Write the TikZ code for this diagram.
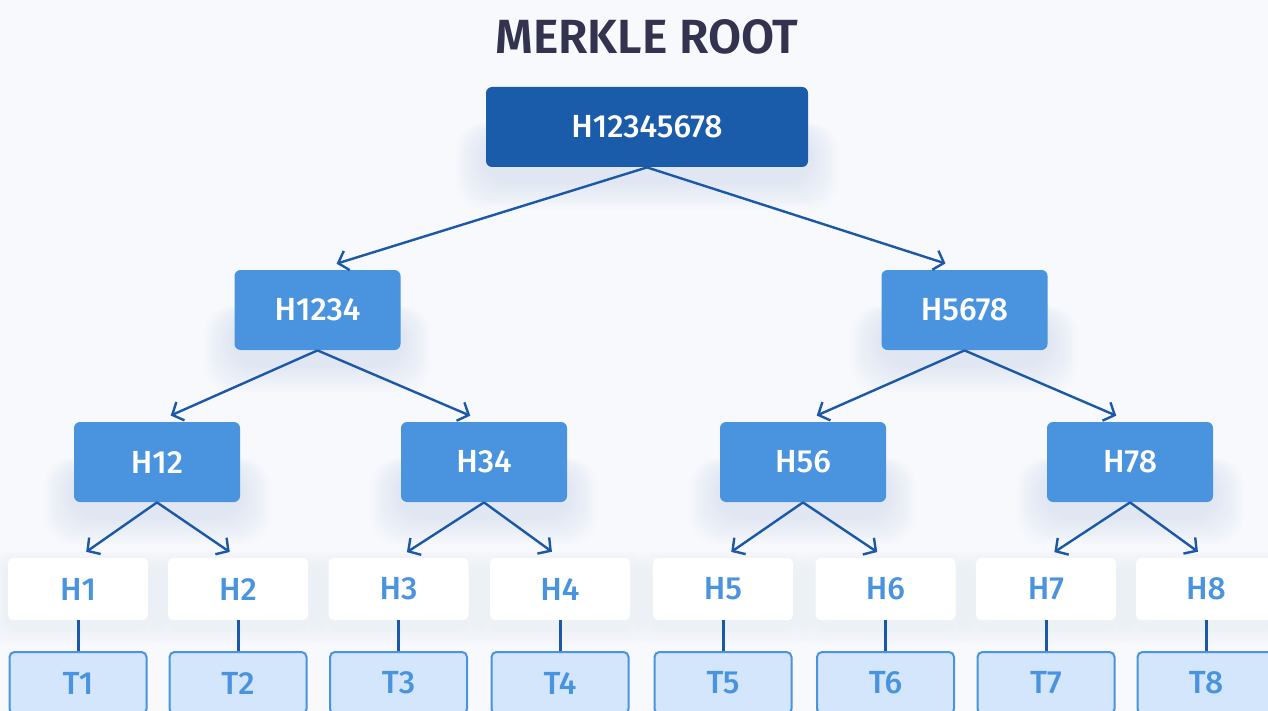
\documentclass[tikz,border=0pt]{standalone}
\usepackage{fontspec}
\setmainfont{Fira Sans}[UprightFont=* Medium, BoldFont=* SemiBold]
\usetikzlibrary{arrows.meta,calc}

\definecolor{bgc}{HTML}{F8F9FC}
\definecolor{titlec}{HTML}{33324F}
\definecolor{rootc}{HTML}{1A5BAA}
\definecolor{midc}{HTML}{4A93DF}
\definecolor{linkc}{HTML}{1B58A8}
\definecolor{tfill}{HTML}{D3E6FB}
\definecolor{glowc}{HTML}{B5CDF0}
\definecolor{leafglowc}{HTML}{C8D6EC}

\pgfdeclarelayer{background}
\pgfsetlayers{background,main}

\tikzset{
  box/.style={rectangle, rounded corners=3pt, inner sep=0pt,
    font=\fontsize{16}{16}\selectfont},
  rootbox/.style={box, fill=rootc, text=white, minimum width=161pt, minimum height=40pt},
  midbox/.style={box, fill=midc, text=white, minimum width=83pt, minimum height=40pt},
  leafbox/.style={box, rounded corners=2.5pt, fill=white, text=midc,
    minimum width=70pt, minimum height=31pt},
  txbox/.style={box, rounded corners=2.5pt, fill=tfill, draw=midc, line width=1pt,
    text=midc, minimum width=68.5pt, minimum height=31pt},
  link/.style={draw=linkc, line width=1.2pt, -{Straight Barb[length=4.5pt,width=10pt]}},
  stem/.style={draw=linkc, line width=1.5pt},
}

\begin{document}
\begin{tikzpicture}[x=0.5pt,y=-0.5pt]
\useasboundingbox (0,0) rectangle (1268,711);
\clip (0,0) rectangle (1268,711);

% title
\node[font=\fontsize{24}{24}\selectfont\bfseries, text=titlec] (title) at (647,37) {MERKLE ROOT};

% root and inner hashes
\node[rootbox] (root) at (647,127) {H12345678};
\node[midbox] (h1234) at (317.5,310) {H1234};
\node[midbox] (h5678) at (964.5,310) {H5678};
\node[midbox] (h12) at (157,462) {H12};
\node[midbox] (h34) at (484,462) {H34};
\node[midbox] (h56) at (803,462) {H56};
\node[midbox] (h78) at (1130,462) {H78};

% leaf hashes and transactions
\foreach \i/\x in {1/78,2/238,3/398.5,4/560,5/723,6/885.5,7/1046,8/1206} {
  \node[leafbox] (h\i) at (\x,589) {H\i};
  \node[txbox] (t\i) at (\x,683) {T\i};
  \draw[stem] (h\i.south) -- (t\i.north);
}

% soft glow under the boxes
\begin{pgfonlayer}{background}
  \fill[bgc] (0,0) rectangle (1268,711);
  \foreach \n in {root,h1234,h5678,h12,h34,h56,h78} {
    \foreach \r in {1,...,10} {
      \fill[glowc, opacity=0.035, rounded corners=14pt]
        ($(\n.west)+(-3*\r,{6-\r})$) rectangle ($(\n.south east)+(3*\r,{12+3*\r})$);
    }
  }
  \foreach \n in {h1,h2,h3,h4,h5,h6,h7,h8} {
    \foreach \r in {1,...,6} {
      \fill[leafglowc, opacity=0.03, rounded corners=8pt]
        ($(\n.north west)+(-3*\r,{6-2*\r})$) rectangle ($(\n.south east)+(3*\r,{6+3*\r})$);
    }
  }
\end{pgfonlayer}

% hash links
\draw[link, shorten >=10pt] (root.south) -- (h1234.north);
\draw[link, shorten >=10pt] (root.south) -- (h5678.north);
\draw[link, shorten >=7.5pt] (h1234.south) -- (h12.north);
\draw[link, shorten >=7.5pt] (h1234.south) -- (h34.north);
\draw[link, shorten >=7.5pt] (h5678.south) -- (h56.north);
\draw[link, shorten >=7.5pt] (h5678.south) -- (h78.north);
\draw[link, shorten >=5pt] (h12.south) -- (h1.north);
\draw[link, shorten >=5pt] (h12.south) -- (h2.north);
\draw[link, shorten >=5pt] (h34.south) -- (h3.north);
\draw[link, shorten >=5pt] (h34.south) -- (h4.north);
\draw[link, shorten >=5pt] (h56.south) -- (h5.north);
\draw[link, shorten >=5pt] (h56.south) -- (h6.north);
\draw[link, shorten >=5pt] (h78.south) -- (h7.north);
\draw[link, shorten >=5pt] (h78.south) -- (h8.north);
\end{tikzpicture}
\end{document}
